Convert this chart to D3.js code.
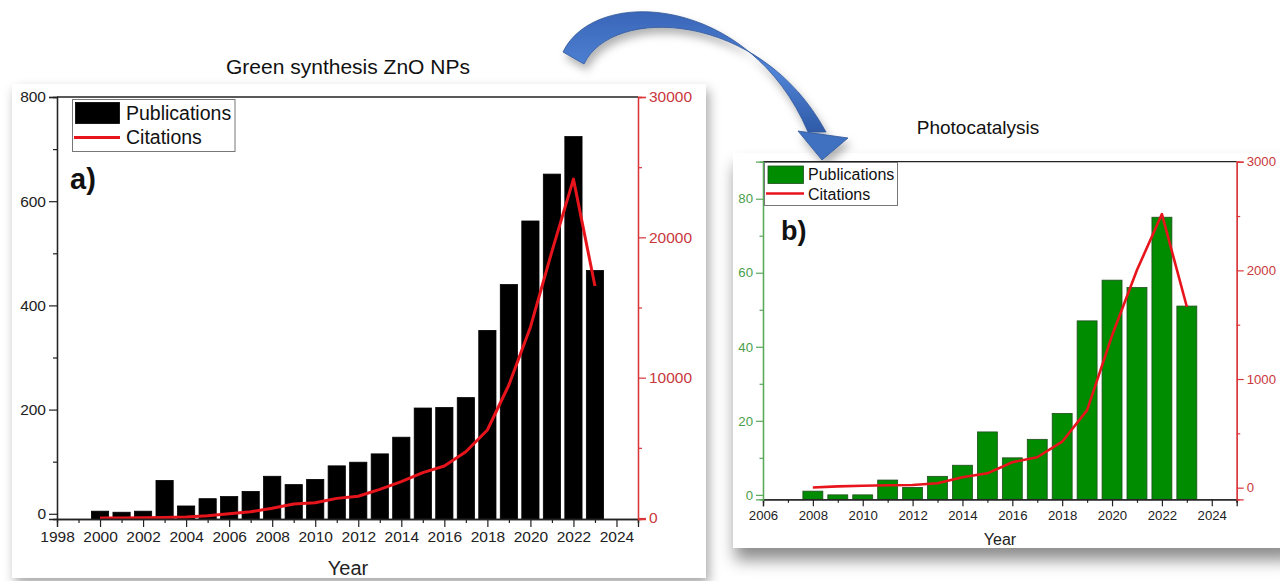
<!DOCTYPE html>
<html>
<head>
<meta charset="utf-8">
<script src="https://cdn.jsdelivr.net/npm/d3@7"></script>
<style>
  html, body { margin: 0; padding: 0; background: #ffffff; }
  svg { display: block; }
  text { font-family: "Liberation Sans", Arial, sans-serif; }
</style>
</head>
<body>
<svg id="chart" width="1280" height="581"></svg>
<script>
// ---------- DATA ----------
const yearsA = [2000,2001,2002,2003,2004,2005,2006,2007,2008,2009,2010,2011,2012,2013,2014,2015,2016,2017,2018,2019,2020,2021,2022,2023];
const publicationsA = [5,3,5,64,15,29,33,43,72,56,66,92,99,115,147,203,204,223,352,440,562,652,724,467];
const citationsA = [5,10,15,30,70,165,310,450,690,1000,1090,1400,1550,2045,2590,3230,3705,4725,6271,9478,13600,19000,24150,16530];

const yearsB = [2008,2009,2010,2011,2012,2013,2014,2015,2016,2017,2018,2019,2020,2021,2022,2023];
const publicationsB = [1,0,0,4,2,5,8,17,10,15,22,47,58,56,75,51];
const citationsB = [2,12,18,22,25,40,96,132,234,280,423,714,1400,2003,2518,1665];

const xTicksA = [1998,2000,2002,2004,2006,2008,2010,2012,2014,2016,2018,2020,2022,2024];
const yTicksA = [0,200,400,600,800];
const y2TicksA = [0,10000,20000,30000];
const xTicksB = [2006,2008,2010,2012,2014,2016,2018,2020,2022,2024];
const yTicksB = [0,20,40,60,80];
const y2TicksB = [0,1000,2000,3000];

const titleA = "Green synthesis ZnO NPs";
const titleB = "Photocatalysis";

// ---------- SETUP ----------
const svg = d3.select("#chart");
const defs = svg.append("defs");
const f = defs.append("filter").attr("id","shadow").attr("x","-10%").attr("y","-10%").attr("width","125%").attr("height","130%");
f.append("feDropShadow").attr("dx",3).attr("dy",6).attr("stdDeviation",6).attr("flood-color","#000").attr("flood-opacity",0.35);
const fb = defs.append("filter").attr("id","shadowb").attr("x","-10%").attr("y","-10%").attr("width","125%").attr("height","140%");
fb.append("feDropShadow").attr("dx",2).attr("dy",12).attr("stdDeviation",8).attr("flood-color","#000").attr("flood-opacity",0.45);
const fa = defs.append("filter").attr("id","ashadow").attr("x","-20%").attr("y","-20%").attr("width","140%").attr("height","160%");
fa.append("feDropShadow").attr("dx",3).attr("dy",6).attr("stdDeviation",4).attr("flood-color","#000").attr("flood-opacity",0.3);
const grad = defs.append("linearGradient").attr("id","agrad").attr("x1","0").attr("y1","0").attr("x2","0").attr("y2","1");
grad.append("stop").attr("offset","0%").attr("stop-color","#3a66b8");
grad.append("stop").attr("offset","50%").attr("stop-color","#4f83d6");
grad.append("stop").attr("offset","100%").attr("stop-color","#2f5aa6");

// cards
svg.append("rect").attr("x",12).attr("y",84).attr("width",694).attr("height",494)
  .attr("fill","#fff").attr("filter","url(#shadow)");
svg.append("rect").attr("x",733).attr("y",153).attr("width",560).attr("height",395)
  .attr("fill","#fff").attr("filter","url(#shadowb)");

// arrow
const arrow = svg.append("g").attr("filter","url(#ashadow)");
arrow.append("path")
  .attr("d","M563,52 C595,-15 750,-5 808,132 L826,132 C760,10 612,5 584,64 Z")
  .attr("fill","url(#agrad)").attr("stroke","#2f5597").attr("stroke-width",0.8);
arrow.append("path")
  .attr("d","M798,131 L848,138 L822,160 Z")
  .attr("fill","#4070c0").attr("stroke","#2f5597").attr("stroke-width",0.8);

// ---------- PANEL DRAW ----------
function drawPanel(cfg) {
  const g = svg.append("g");
  const x = d3.scaleLinear().domain(cfg.xDom).range([cfg.left, cfg.right]);
  const y = d3.scaleLinear().domain(cfg.yDom).range([cfg.bottom, cfg.top]);
  const y2 = d3.scaleLinear().domain(cfg.y2Dom).range([cfg.bottom, cfg.top]);
  const step = x(1) - x(0);
  const bw = step * 0.8;

  // bars
  g.selectAll("rect.bar").data(cfg.years).enter().append("rect")
    .attr("x", (d) => x(d) - bw/2)
    .attr("y", (d,i) => y(cfg.pubs[i]))
    .attr("width", bw)
    .attr("height", (d,i) => y(cfg.yDom[0]) - y(cfg.pubs[i]))
    .attr("fill", cfg.barFill)
    .attr("stroke", cfg.barStroke)
    .attr("stroke-width", 0.8);

  // line
  const line = d3.line().x((d) => x(d[0])).y((d) => y2(d[1])).curve(d3.curveLinear);
  g.append("path").datum(cfg.years.map((d,i) => [d, cfg.cites[i]]))
    .attr("d", line).attr("fill","none").attr("stroke","#e8141c").attr("stroke-width",cfg.lineW)
    .attr("stroke-linejoin","round");

  // top frame
  g.append("line").attr("x1",cfg.left).attr("x2",cfg.right).attr("y1",cfg.top).attr("y2",cfg.top)
    .attr("stroke","#222").attr("stroke-width",1.3);

  // x axis
  const minorX = d3.range(cfg.xDom[0], cfg.xDom[1]+1).filter(v => !cfg.xTicks.includes(v));
  const xa = g.append("g").attr("transform",`translate(0,${cfg.bottom})`)
    .call(d3.axisBottom(x).tickValues(cfg.xTicks).tickSize(cfg.tick).tickPadding(4).tickFormat(d3.format("d")));
  const xm = g.append("g").attr("transform",`translate(0,${cfg.bottom})`)
    .call(d3.axisBottom(x).tickValues(minorX).tickSize(cfg.tick/2).tickFormat(""));
  [xa, xm].forEach(a => { a.select(".domain").attr("stroke","#222").attr("stroke-width",1.3);
    a.selectAll(".tick line").attr("stroke","#222").attr("stroke-width",1.2); });
  xa.selectAll("text").attr("font-size",cfg.fs).attr("fill","#222");

  // left axis
  const ymin = cfg.yTicks.slice(0,-1).map((v,i) => (v + cfg.yTicks[i+1]) / 2);
  const ya = g.append("g").attr("transform",`translate(${cfg.left},0)`)
    .call(d3.axisLeft(y).tickValues(cfg.yTicks).tickSize(cfg.tick).tickPadding(3));
  const ym = g.append("g").attr("transform",`translate(${cfg.left},0)`)
    .call(d3.axisLeft(y).tickValues(ymin).tickSize(cfg.tick/2).tickFormat(""));
  [ya, ym].forEach(a => { a.select(".domain").attr("stroke",cfg.leftColor).attr("stroke-width",1.3);
    a.selectAll(".tick line").attr("stroke",cfg.leftColor).attr("stroke-width",1.2); });
  ya.selectAll("text").attr("font-size",cfg.fs).attr("fill",cfg.leftText);

  // right axis
  const y2min = cfg.y2Ticks.slice(0,-1).map((v,i) => (v + cfg.y2Ticks[i+1]) / 2);
  const ra = g.append("g").attr("transform",`translate(${cfg.right},0)`)
    .call(d3.axisRight(y2).tickValues(cfg.y2Ticks).tickSize(cfg.tick).tickPadding(3).tickFormat(d3.format("d")));
  const rm = g.append("g").attr("transform",`translate(${cfg.right},0)`)
    .call(d3.axisRight(y2).tickValues(y2min).tickSize(cfg.tick/2).tickFormat(""));
  [ra, rm].forEach(a => { a.select(".domain").attr("stroke","#d9363b").attr("stroke-width",1.3);
    a.selectAll(".tick line").attr("stroke","#d9363b").attr("stroke-width",1.2); });
  ra.selectAll("text").attr("font-size",cfg.fs).attr("fill","#c9383c");
  g.selectAll(".domain").attr("fill","none");

  // x label
  g.append("text").attr("x",cfg.xLabel[0]).attr("y",cfg.xLabel[1]).attr("text-anchor","middle")
    .attr("font-size",cfg.xLabelFs).attr("fill","#222").text("Year");

  // panel letter
  g.append("text").attr("x",cfg.letter[0]).attr("y",cfg.letter[1])
    .attr("font-family","Lato, 'Open Sans', sans-serif").attr("font-weight","bold")
    .attr("font-size",cfg.letterFs).attr("fill","#111").text(cfg.letterText);

  // legend
  const L = cfg.legend;
  g.append("rect").attr("x",L.x).attr("y",L.y).attr("width",L.w).attr("height",L.h)
    .attr("fill","#fff").attr("stroke","#777").attr("stroke-width",1);
  g.append("rect").attr("x",L.sx).attr("y",L.sy).attr("width",L.sw).attr("height",L.sh)
    .attr("fill",cfg.barFill).attr("stroke",cfg.barStroke).attr("stroke-width",0.8);
  g.append("line").attr("x1",L.lx1).attr("x2",L.lx2).attr("y1",L.ly).attr("y2",L.ly)
    .attr("stroke","#e8141c").attr("stroke-width",cfg.lineW);
  g.append("text").attr("x",L.tx).attr("y",L.t1).attr("font-size",L.fs).attr("fill","#111").text("Publications");
  g.append("text").attr("x",L.tx).attr("y",L.t2).attr("font-size",L.fs).attr("fill","#111").text("Citations");

  // title
  svg.append("text").attr("x",cfg.title[0]).attr("y",cfg.title[1]).attr("text-anchor","middle")
    .attr("font-family","Lato, 'Open Sans', sans-serif")
    .attr("font-size",cfg.titleFs).attr("fill","#111").text(cfg.titleText);
}

drawPanel({
  years: yearsA, pubs: publicationsA, cites: citationsA,
  xDom: [1998, 2025], yDom: [-10, 800], y2Dom: [-70, 30000],
  left: 57, right: 638, top: 97, bottom: 519,
  xTicks: xTicksA, yTicks: yTicksA, y2Ticks: y2TicksA,
  tick: 8, fs: 15.5, lineW: 3,
  barFill: "#000", barStroke: "#000",
  leftColor: "#222", leftText: "#222",
  xLabel: [348, 575], xLabelFs: 20,
  letter: [70, 189], letterFs: 29, letterText: "a)",
  legend: {x:72.5, y:99.5, w:162.5, h:52, sx:75.5, sy:102.5, sw:44, sh:21, lx1:74, lx2:120, ly:137.5, tx:126, t1:120, t2:144, fs:19.5},
  title: [348, 74], titleFs: 21, titleText: titleA
});

drawPanel({
  years: yearsB, pubs: publicationsB, cites: citationsB,
  xDom: [2006, 2025], yDom: [-1.2, 90], y2Dom: [-107, 3000],
  left: 763, right: 1236.7, top: 161.7, bottom: 499.3,
  xTicks: xTicksB, yTicks: yTicksB, y2Ticks: y2TicksB,
  tick: 7, fs: 13.2, lineW: 2.6,
  barFill: "#008c00", barStroke: "#1f4d1f",
  leftColor: "#5aa85a", leftText: "#4a9e4a",
  xLabel: [1000, 545], xLabelFs: 16,
  letter: [781, 240], letterFs: 27, letterText: "b)",
  legend: {x:764.5, y:162.5, w:133, h:43, sx:768, sy:166, sw:35.5, sh:17.5, lx1:766, lx2:804, ly:193.5, tx:808, t1:179.5, t2:199.5, fs:16},
  title: [978, 134], titleFs: 19, titleText: titleB
});
</script>
</body>
</html>
